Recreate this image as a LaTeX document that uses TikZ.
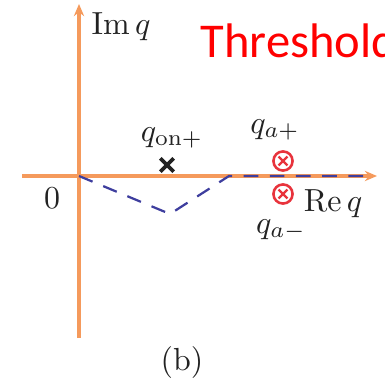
\documentclass[tikz,border=0pt]{standalone}
\usepackage{fontspec}
\newfontfamily\calib{Carlito}
\usetikzlibrary{arrows.meta,shapes.misc}
\definecolor{ink}{HTML}{222222}
\definecolor{axis}{HTML}{F59A5C}
\definecolor{contour}{HTML}{3E3E9E}
\definecolor{pole}{HTML}{E8333C}

\begin{document}
\begin{tikzpicture}[
  x=0.011cm, y=-0.011cm, font=\normalsize, color=ink,
  ax/.style={-{Stealth[length=3.8pt, width=3.2pt]}, line width=1pt, color=axis},
  cont/.style={dash pattern=on 4.6pt off 3.6pt, line width=0.7pt, color=contour},
  lbl/.style={inner sep=1pt, text=ink},
  onshell/.style={cross out, draw=ink, line width=1.2pt, minimum size=3pt, inner sep=0pt},
  polemark/.style={circle, draw=pole, line width=0.8pt, minimum size=6pt, inner sep=0pt,
    path picture={\draw[pole, line width=0.75pt]
      ([shift={(-1.4pt,-1.4pt)}]path picture bounding box.center) -- ([shift={(1.4pt,1.4pt)}]path picture bounding box.center)
      ([shift={(-1.4pt,1.4pt)}]path picture bounding box.center) -- ([shift={(1.4pt,-1.4pt)}]path picture bounding box.center);}},
]
\clip (0,0) rectangle (385,385);

% axes
\coordinate (o) at (79,176);
\coordinate (xl) at (22,176);
\coordinate (xr) at (377,176);
\coordinate (yb) at (79,338);
\coordinate (yt) at (79,4);
\draw[ax] (xl) -- (xr);
\draw[ax] (yb) -- (yt);

% contour
\coordinate (dip) at (170,214);
\coordinate (kink) at (229,176);
\coordinate (cend) at (372,176);
\draw[cont] (o) -- (dip) -- (kink) -- (cend);

% singularities
\node[onshell] (xon) at (167,165) {};
\node[polemark] (pp) at (283,161) {};
\node[polemark] (pm) at (283,194) {};

% labels
\node[lbl] (im) at (121,27) {$\mathrm{Im}\,q$};
\node[lbl] (re) at (333,204) {$\mathrm{Re}\,q$};
\node[lbl] (zero) at (52,198) {$0$};
\node[lbl] (qon) at (172,138) {$q_{\mathrm{on}+}$};
\node[lbl] (qap) at (275,130) {$q_{a+}$};
\node[lbl] (qam) at (281,230) {$q_{a-}$};
\node[lbl] (cap) at (182,363) {(b)};
\node[anchor=base west, inner sep=0pt, text=red, font=\calib\fontsize{15.2}{18}\selectfont] (thr) at (200,58) {Threshold};
\end{tikzpicture}
\end{document}
